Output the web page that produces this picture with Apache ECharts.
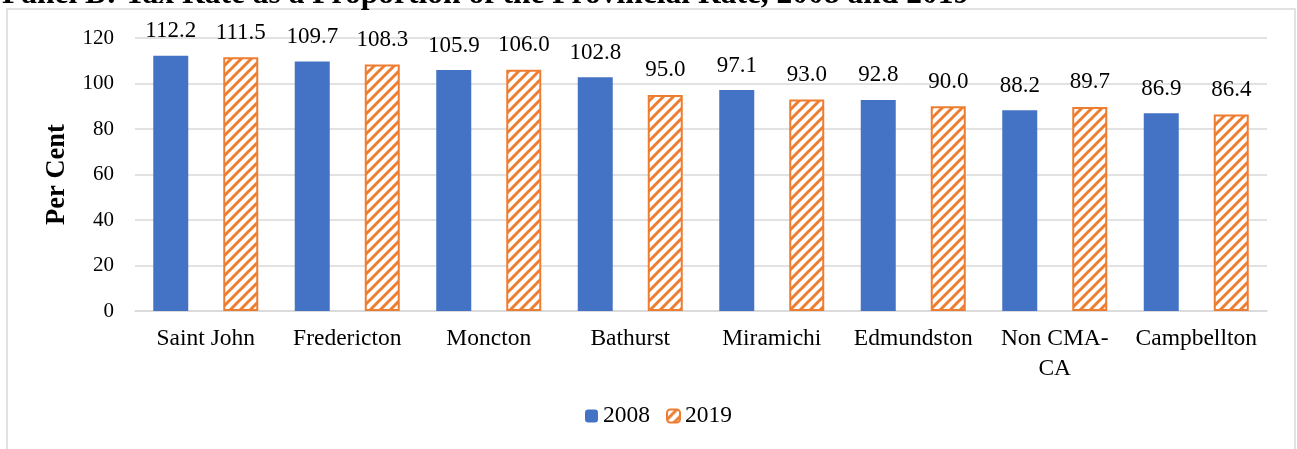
<!DOCTYPE html>
<html>
<head>
<meta charset="utf-8">
<script src="https://cdn.jsdelivr.net/npm/echarts@6/dist/echarts.min.js"></script>
<style>
  html, body { margin: 0; padding: 0; background: #fff; }
  #myChart { width: 1297px; height: 449px; }
</style>
</head>
<body>
<div id="myChart"></div>
<script>
// 数据
var cities = ['Saint John', 'Fredericton', 'Moncton', 'Bathurst', 'Miramichi', 'Edmundston', 'Non CMA-\nCA', 'Campbellton'];
var rate2008 = [112.2, 109.7, 105.9, 102.8, 97.1, 92.8, 88.2, 86.9];
var rate2019 = [111.5, 108.3, 106.0, 95.0, 93.0, 90.0, 89.7, 86.4];
var yTicks = [0, 20, 40, 60, 80, 100, 120];

var serif = '"Liberation Serif", "Times New Roman", serif';

// 斜线填充
function hatch() {
  var s = 10;
  var c = document.createElement('canvas');
  c.width = s; c.height = s;
  var ctx = c.getContext('2d');
  ctx.fillStyle = '#fff';
  ctx.fillRect(0, 0, s, s);
  ctx.strokeStyle = '#ED7D31';
  ctx.lineWidth = 3;
  ctx.beginPath();
  ctx.moveTo(-2, s + 2); ctx.lineTo(s + 2, -2);
  ctx.moveTo(-s / 2 - 2, s / 2 + 2); ctx.lineTo(s / 2 + 2, -s / 2 - 2);
  ctx.moveTo(s / 2 - 2, s * 1.5 + 2); ctx.lineTo(s * 1.5 + 2, s / 2 - 2);
  ctx.stroke();
  return c;
}

var myChart = echarts.init(document.getElementById('myChart'));
myChart.setOption({
  animation: false,
  title: {
    text: 'Panel B: Tax Rate as a Proportion of the Provincial Rate, 2008 and 2019',
    left: -3,
    top: -26,
    textStyle: { fontFamily: serif, fontWeight: 'bold', fontSize: 31.5, color: '#000' }
  },
  graphic: [{
    type: 'rect',
    shape: { x: 7, y: 9, width: 1288, height: 470 },
    style: { fill: 'none', stroke: '#d9d9d9', lineWidth: 1.5 },
    silent: true
  }],
  legend: {
    bottom: 16,
    left: 580,
    itemWidth: 13,
    itemHeight: 13,
    itemGap: 16,
    textStyle: { fontFamily: serif, fontSize: 23.5, color: '#000' },
    data: ['2008', '2019']
  },
  grid: { left: 135, right: 30, top: 38, bottom: 138 },
  xAxis: {
    type: 'category',
    data: cities,
    axisLine: { lineStyle: { color: '#d9d9d9', width: 1.5 } },
    axisTick: { length: 6, lineStyle: { color: '#d9d9d9', width: 1.5 } },
    axisLabel: { fontFamily: serif, fontSize: 23.5, color: '#000', margin: 13, lineHeight: 30, interval: 0 }
  },
  yAxis: {
    type: 'value',
    min: 0,
    max: 120,
    interval: 20,
    name: 'Per Cent',
    nameLocation: 'middle',
    nameGap: 64,
    nameTextStyle: { fontFamily: serif, fontWeight: 'bold', fontSize: 26.5, color: '#000' },
    axisLine: { show: false },
    axisTick: { show: false },
    axisLabel: {
      fontFamily: serif, fontSize: 21, color: '#000', margin: 21,
      formatter: function (v) { return yTicks.indexOf(v) >= 0 ? String(v) : ''; }
    },
    splitLine: { lineStyle: { color: '#d9d9d9', width: 1.5 } }
  },
  series: [
    {
      name: '2008',
      type: 'bar',
      data: rate2008,
      barWidth: 35,
      barGap: '100%',
      itemStyle: { color: '#4472C4' },
      label: {
        show: true, position: 'top', distance: 13,
        fontFamily: serif, fontSize: 23, color: '#000',
        formatter: function (p) { return p.value.toFixed(1); }
      }
    },
    {
      name: '2019',
      type: 'bar',
      data: rate2019,
      barWidth: 35,
      barGap: '100%',
      itemStyle: {
        color: { image: hatch(), repeat: 'repeat' },
        borderColor: '#ED7D31',
        borderWidth: 2
      },
      label: {
        show: true, position: 'top', distance: 13,
        fontFamily: serif, fontSize: 23, color: '#000',
        formatter: function (p) { return p.value.toFixed(1); }
      }
    }
  ]
});
</script>
</body>
</html>
